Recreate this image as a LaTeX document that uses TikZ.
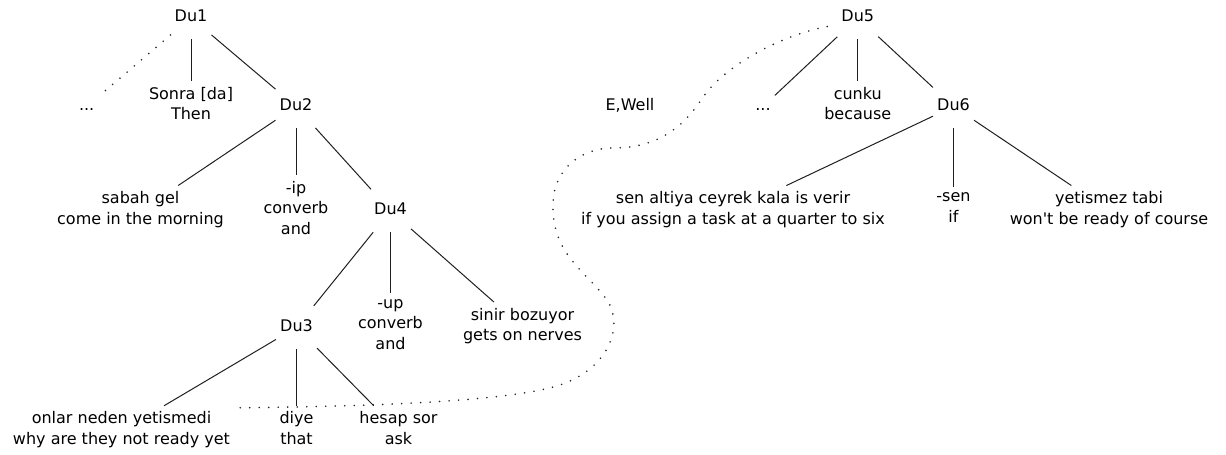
\documentclass[tikz,border=0pt]{standalone}
\usepackage{fontspec}
\setmainfont{DejaVu Sans}
\begin{document}
\begin{tikzpicture}[x=1pt,y=-1pt,
  basetext/.style={font={\fontsize{16}{20.5}\selectfont}, execute at begin node=\strut, execute at end node=\strut},
  du/.style={basetext, inner xsep=4pt, inner ysep=11pt},
  leaf/.style={basetext, align=center, inner xsep=5pt, inner ysep=5.65pt},
  edge/.style={line width=1pt, draw=black!88},
  dotedge/.style={line width=1.8pt, line cap=round, dash pattern=on 0pt off 9.5pt, draw=black!85}]
\useasboundingbox (0,0) rectangle (1226,455);
% left tree
\node[du] (du1) at (191,17.6) {Du1};
\node[du] (dots1) at (86.7,106.5) {...};
\node[leaf] (sonra) at (191,106.5) {Sonra [da]\\Then};
\node[du] (du2) at (296,106.5) {Du2};
\node[leaf] (sabah) at (140.5,210.8) {sabah gel\\come in the morning};
\node[leaf] (ip) at (296,210.8) {-ip\\converb\\and};
\node[du] (du4) at (390.5,210.8) {Du4};
\node[du] (du3) at (296.5,327.3) {Du3};
\node[leaf] (up) at (390.5,327.3) {-up\\converb\\and};
\node[leaf] (sinir) at (522.5,327.3) {sinir bozuyor\\gets on nerves};
\node[leaf] (onlar) at (121.5,431) {onlar neden yetismedi\\why are they not ready yet};
\node[leaf] (diye) at (296.5,431) {diye\\that};
\node[leaf] (hesap) at (398.5,431) {hesap sor\\ask};
% right tree
\node[du] (du5) at (857.75,17.6) {Du5};
\node[du] (ewell) at (630,106.5) {E,Well};
\node[du] (dots2) at (763,106.5) {...};
\node[leaf] (cunku) at (857.75,106.5) {cunku\\because};
\node[du] (du6) at (953.5,106.5) {Du6};
\node[leaf] (sen) at (733,210.8) {sen altiya ceyrek kala is verir\\if you assign a task at a quarter to six};
\node[leaf] (sen2) at (953.5,210.8) {-sen\\if};
\node[leaf] (yet) at (1109,210.8) {yetismez tabi\\won\textquotesingle t be ready of course};
% edges
\draw[dotedge] (du1) -- (dots1);
\draw[edge] (du1) -- (sonra);
\draw[edge] (du1) -- (du2);
\draw[edge] (du2) -- (sabah);
\draw[edge] (du2) -- (ip);
\draw[edge] (du2) -- (du4);
\draw[edge] (du4) -- (du3);
\draw[edge] (du4) -- (up);
\draw[edge] (du4) -- (sinir);
\draw[edge] (du3) -- (onlar);
\draw[edge] (du3) -- (diye);
\draw[edge] (du3) -- (hesap);
\draw[edge] (du5) -- (dots2);
\draw[edge] (du5) -- (cunku);
\draw[edge] (du5) -- (du6);
\draw[edge] (du6) -- (sen);
\draw[edge] (du6) -- (sen2);
\draw[edge] (du6) -- (yet);
% dotted connection
\draw[dotedge] ([xshift=-10pt,yshift=-9pt]du5.west) .. controls (790,33) and (730,60) .. (703,97)
  .. controls (685,125) and (660,148) .. (613,148)
  .. controls (580,148) and (553,170) .. (553,205)
  .. controls (552,255) and (587,272) .. (607,300)
  .. controls (624,325) and (610,368) .. (560,385)
  .. controls (520,398) and (420,406) .. ([xshift=5pt,yshift=-2pt]onlar.north east);
\end{tikzpicture}
\end{document}
